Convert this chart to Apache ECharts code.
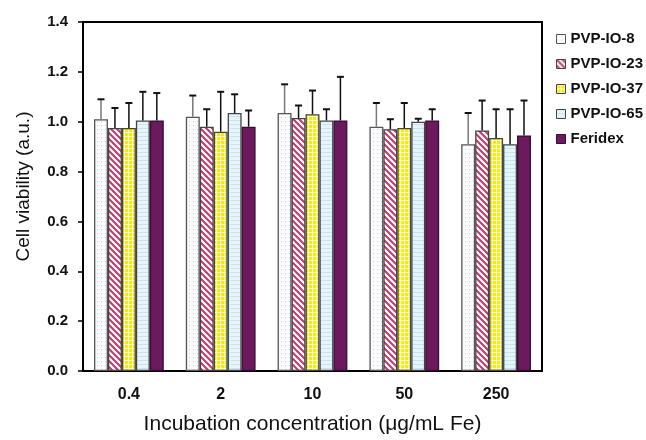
<!DOCTYPE html>
<html>
<head>
<meta charset="utf-8">
<script src="https://cdn.jsdelivr.net/npm/echarts@6/dist/echarts.min.js"></script>
<style>
  html, body { margin: 0; padding: 0; background: #fff; }
  #chart { width: 646px; height: 440px; }
</style>
</head>
<body>
<div id="chart"></div>
<script>
// data
const concentrations = ['0.4', '2', '10', '50', '250'];
const seriesNames = ['PVP-IO-8', 'PVP-IO-23', 'PVP-IO-37', 'PVP-IO-65', 'Feridex'];
const pvp8 = [1.01, 1.02, 1.035, 0.98, 0.91];
const pvp8Err = [0.08, 0.085, 0.115, 0.095, 0.125];
const pvp23 = [0.975, 0.98, 1.015, 0.97, 0.965];
const pvp23Err = [0.08, 0.07, 0.05, 0.04, 0.12];
const pvp37 = [0.975, 0.96, 1.03, 0.975, 0.935];
const pvp37Err = [0.10, 0.16, 0.095, 0.10, 0.115];
const pvp65 = [1.005, 1.035, 1.005, 1.0, 0.91];
const pvp65Err = [0.115, 0.075, 0.045, 0.012, 0.14];
const feridex = [1.005, 0.98, 1.005, 1.005, 0.945];
const feridexErr = [0.11, 0.065, 0.175, 0.045, 0.14];

const values = [pvp8, pvp23, pvp37, pvp65, feridex];
const errors = [pvp8Err, pvp23Err, pvp37Err, pvp65Err, feridexErr];

const GAP = 0.24;
const FONT = '"Liberation Sans", Arial, sans-serif';

// small canvas fills to mimic the hatch patterns
function pattern(kind) {
    const c = document.createElement('canvas');
    const ctx = c.getContext('2d');
    if (kind === 'dots') {
        c.width = 4; c.height = 4;
        ctx.fillStyle = '#fbfbfd'; ctx.fillRect(0, 0, 4, 4);
        ctx.fillStyle = '#cfcfe2'; ctx.fillRect(1, 1, 1, 1);
    } else if (kind === 'stripes') {
        c.width = 6; c.height = 6;
        ctx.fillStyle = '#fff'; ctx.fillRect(0, 0, 6, 6);
        ctx.strokeStyle = '#c23a6c'; ctx.lineWidth = 2;
        ctx.beginPath();
        ctx.moveTo(-1, -1); ctx.lineTo(7, 7);
        ctx.moveTo(-4, 2); ctx.lineTo(4, 10);
        ctx.moveTo(2, -4); ctx.lineTo(10, 4);
        ctx.stroke();
    } else if (kind === 'checks') {
        c.width = 4; c.height = 4;
        ctx.fillStyle = '#f5e81a'; ctx.fillRect(0, 0, 4, 4);
        ctx.fillStyle = 'rgba(255,255,255,0.75)';
        ctx.fillRect(0, 0, 4, 1); ctx.fillRect(0, 0, 1, 4);
    } else if (kind === 'lines') {
        c.width = 4; c.height = 4;
        ctx.fillStyle = '#e6f4fb'; ctx.fillRect(0, 0, 4, 4);
        ctx.fillStyle = '#c9e4f1'; ctx.fillRect(0, 0, 4, 1);
    }
    return { image: c, repeat: 'repeat' };
}

const fills = [pattern('dots'), pattern('stripes'), pattern('checks'), pattern('lines'), '#6a1a5d'];
const borders = ['#555', '#444', '#444', '#444', '#3a0d33'];
const errColors = ['#777', '#111', '#111', '#111', '#111'];

const chart = echarts.init(document.getElementById('chart'));

const barSeries = seriesNames.map((name, i) => ({
    name: name,
    type: 'bar',
    barGap: 0,
    barCategoryGap: (GAP * 100) + '%',
    itemStyle: { color: fills[i], borderColor: borders[i], borderWidth: 1.3 },
    data: values[i]
}));

const errSeries = seriesNames.map((name, i) => ({
    name: name,
    type: 'custom',
    z: 3,
    silent: true,
    data: concentrations.map((_, j) => [j, values[i][j], errors[i][j]]),
    renderItem: (params, api) => {
        const ci = api.value(0);
        const v = api.value(1);
        const e = api.value(2);
        const band = api.size([1, 0])[0];
        const barW = band * (1 - GAP) / 5;
        const x = api.coord([ci, 0])[0] + (i - 2) * barW;
        const yb = api.coord([ci, v])[1];
        const yt = api.coord([ci, v + e])[1];
        const st = { stroke: errColors[i], lineWidth: 1.5 };
        return {
            type: 'group',
            children: [
                { type: 'line', shape: { x1: x, y1: yb, x2: x, y2: yt }, style: st },
                { type: 'line', shape: { x1: x - 3.5, y1: yt, x2: x + 3.5, y2: yt }, style: { stroke: '#111', lineWidth: 2 } }
            ]
        };
    }
}));

chart.setOption({
    backgroundColor: '#fff',
    animation: false,
    grid: {
        left: 83, right: 104, top: 22, bottom: 64,
        show: true, borderColor: '#000', borderWidth: 2
    },
    legend: {
        orient: 'vertical',
        left: 551, top: 26,
        itemWidth: 9, itemHeight: 9, itemGap: 9,
        data: seriesNames.map(n => ({ name: n, icon: 'rect' })),
        textStyle: { fontFamily: FONT, fontWeight: 'bold', fontSize: 15, color: '#111', lineHeight: 16 },
        itemStyle: { borderWidth: 1 },
        selectedMode: false
    },
    xAxis: {
        type: 'category',
        data: concentrations,
        name: 'Incubation concentration (μg/mL Fe)',
        nameLocation: 'middle',
        nameGap: 43,
        nameTextStyle: { fontFamily: FONT, fontSize: 21, color: '#111' },
        axisLine: { lineStyle: { color: '#000', width: 2 } },
        axisTick: { length: 5, lineStyle: { color: '#000', width: 2 } },
        axisLabel: { fontFamily: FONT, fontWeight: 'bold', fontSize: 16, color: '#111', margin: 16 }
    },
    yAxis: {
        type: 'value',
        min: 0, max: 1.4, interval: 0.2,
        name: 'Cell viability (a.u.)',
        nameLocation: 'middle',
        nameGap: 50,
        nameTextStyle: { fontFamily: FONT, fontSize: 19, color: '#111', padding: [0, 0, 0, 20] },
        axisLine: { show: true, lineStyle: { color: '#000', width: 2 } },
        axisTick: { show: true, length: 5, lineStyle: { color: '#000', width: 1.5 } },
        splitLine: { show: false },
        axisLabel: {
            fontFamily: FONT, fontWeight: 'bold', fontSize: 15, color: '#111', margin: 15,
            formatter: v => v.toFixed(1)
        }
    },
    series: barSeries.concat(errSeries)
});
</script>
</body>
</html>
